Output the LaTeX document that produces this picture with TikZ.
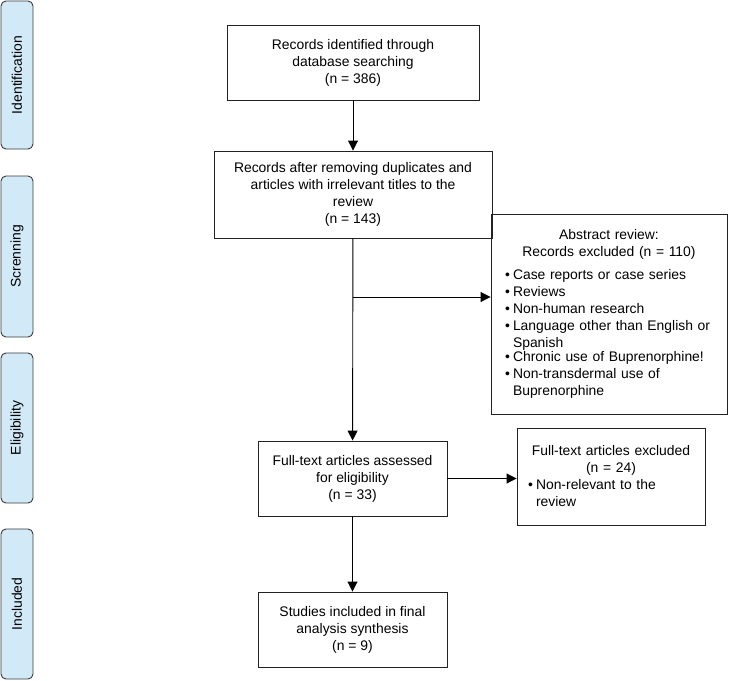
\documentclass[tikz,border=0pt]{standalone}
\usepackage{fontspec}
\setmainfont{Liberation Sans}
\usetikzlibrary{arrows.meta,positioning}
\definecolor{stagefill}{HTML}{D2E9F8}
\definecolor{stageline}{HTML}{3A3A3A}
\definecolor{boxline}{HTML}{222222}
\newcommand{\bitem}[1]{\par\noindent\makebox[8pt][l]{\textbullet}\parbox[t]{\dimexpr\hsize-8pt\relax}{\raggedright #1}}

\begin{document}
\begin{tikzpicture}[x=1pt, y=-1pt,
    font=\fontsize{13.9}{17}\selectfont,
    >={Triangle[length=10pt, width=10pt]},
    stage/.style={draw=stageline, fill=stagefill, rounded corners=5pt, line width=0.9pt,
      rotate=90, minimum height=32pt, inner sep=0pt},
    stepbox/.style={draw=boxline, line width=0.9pt, align=center, inner sep=4pt},
    exbox/.style={draw=boxline, line width=0.9pt, align=left, inner ysep=4pt}]
    \useasboundingbox (0,0) rectangle (730,680);
    \node[stage, minimum width=148pt] (sid) at (17,75) {Identification};
    \node[stage, minimum width=161pt] (sscr) at (17,256.5) {Screnning};
    \node[stage, minimum width=150pt] (selig) at (17,428) {Eligibility};
    \node[stage, minimum width=150pt] (sinc) at (17,604) {Included};
    \node[stepbox, minimum width=252pt, minimum height=75pt] (ident) at (353,62.5)
      {Records identified through\\database searching\\(n = 386)};
    \node[stepbox, minimum width=278pt, minimum height=87pt] (screen) at (353,194.5)
      {Records after removing duplicates and\\articles with irrelevant titles to the\\review\\(n = 143)};
    \node[stepbox, minimum width=189pt, minimum height=75pt] (elig) at (352.5,478.5)
      {Full-text articles assessed\\for eligibility\\(n = 33)};
    \node[stepbox, minimum width=189pt, minimum height=75pt] (incl) at (352.5,629.5)
      {Studies included in final\\analysis synthesis\\(n = 9)};
    \node[exbox, inner xsep=14pt, text width=208pt, minimum height=200pt] (exabs) at (609,314)
      {{\centering Abstract review:\\Records excluded (n = 110)\par}\vspace{6pt}
       \bitem{Case reports or case series}
       \bitem{Reviews}
       \bitem{Non-human research}
       \bitem{Language other than English or\\Spanish}
       \bitem{Chronic use of Buprenorphine!}
       \bitem{Non-transdermal use of\\Buprenorphine}};
    \node[exbox, inner xsep=11pt, text width=166pt, minimum height=97pt] (exfull) at (611,476.5)
      {{\centering Full-text articles excluded\\(n = 24)\par}
       \bitem{Non-relevant to the\\review}};
    \coordinate (br) at (353,297);
    \draw[->, line width=0.9pt] (ident) -- (screen);
    \draw[->, line width=0.9pt] (screen) -- (elig);
    \draw[->, line width=0.9pt] (br) -- (br -| exabs.west);
    \draw[->, line width=0.9pt] (elig.east) -- (elig.east -| exfull.west);
    \draw[->, line width=0.9pt] (elig) -- (incl);
\end{tikzpicture}
\end{document}
